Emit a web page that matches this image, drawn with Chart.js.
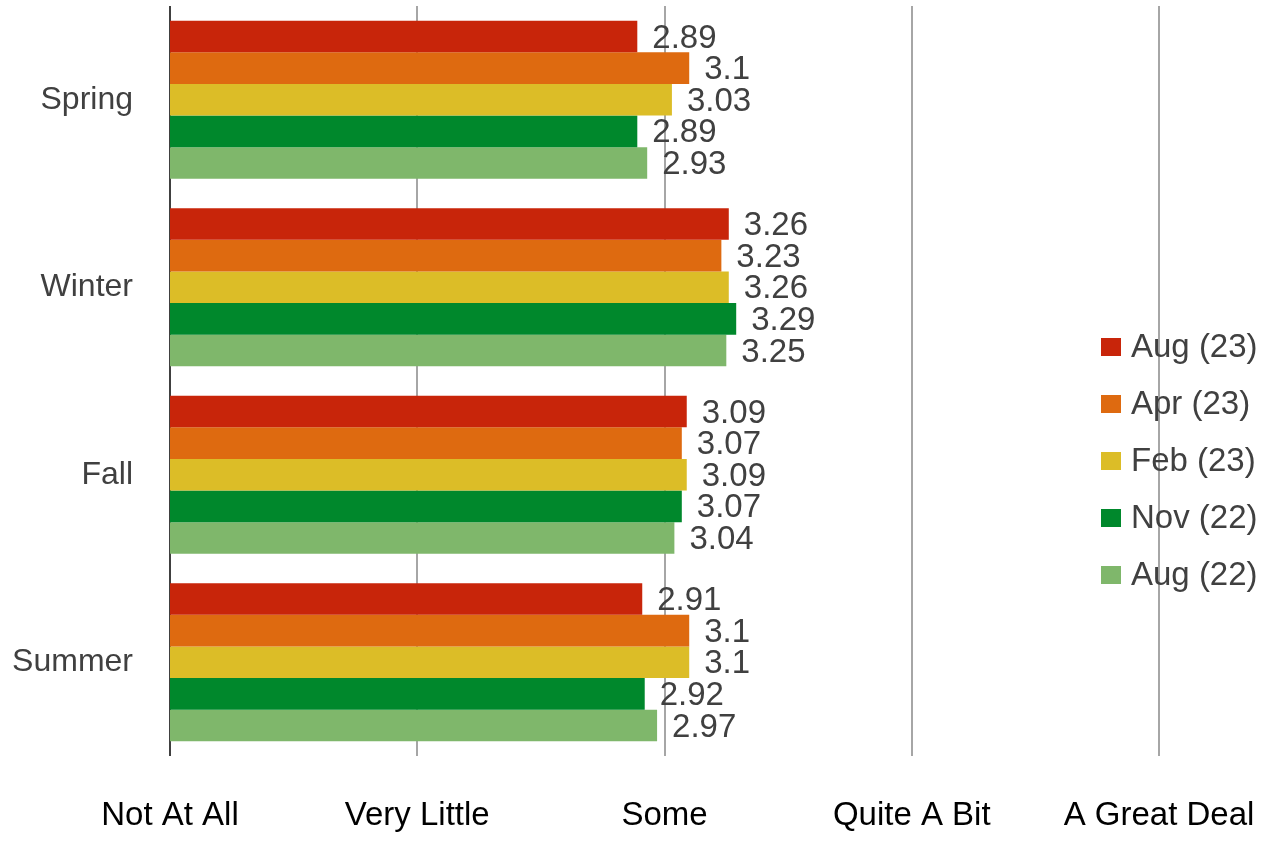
<!DOCTYPE html>
<html lang="en">
  <head>
    <meta charset="UTF-8" />
    <meta name="viewport" content="width=device-width, initial-scale=1.0" />
    <script src="https://cdn.jsdelivr.net/npm/chart.js"></script>
    <style>
      html,
      body {
        margin: 0;
        padding: 0;
        background: #ffffff;
      }
      #mychart {
        display: block;
      }
    </style>
    <title>Seasons</title>
  </head>
  <body>
    <canvas id="mychart" width="1273" height="841"></canvas>
    <script>
      // Datos
      const seasons = ["Spring", "Winter", "Fall", "Summer"];
      const xTickLabels = ["Not At All", "Very Little", "Some", "Quite A Bit", "A Great Deal"];

      const seriesNames = ["Aug (23)", "Apr (23)", "Feb (23)", "Nov (22)", "Aug (22)"];
      const seriesColors = ["#c8250a", "#de6a10", "#dcbd27", "#00882c", "#7fb76b"];

      const aug23 = [2.89, 3.26, 3.09, 2.91];
      const apr23 = [3.1, 3.23, 3.07, 3.1];
      const feb23 = [3.03, 3.26, 3.09, 3.1];
      const nov22 = [2.89, 3.29, 3.07, 2.92];
      const aug22 = [2.93, 3.25, 3.04, 2.97];

      const seriesValues = [aug23, apr23, feb23, nov22, aug22];

      const FONT = "'Liberation Sans', Arial, sans-serif";

      window.addEventListener("load", () => {
        // Etiquetas con el valor al final de cada barra
        const valueLabels = {
          id: "valueLabels",
          afterDatasetsDraw(chart) {
            const { ctx } = chart;
            ctx.save();
            ctx.font = "33px " + FONT;
            ctx.fillStyle = "#404040";
            ctx.textAlign = "left";
            ctx.textBaseline = "middle";
            chart.data.datasets.forEach((ds, i) => {
              chart.getDatasetMeta(i).data.forEach((bar, j) => {
                ctx.fillText(String(ds.data[j]), bar.x + 15, bar.y + 2);
              });
            });
            ctx.restore();
          },
        };

        // Leyenda a la derecha, encima del area del grafico
        const sideLegend = {
          id: "sideLegend",
          afterDraw(chart) {
            const { ctx } = chart;
            ctx.save();
            ctx.font = "33px " + FONT;
            ctx.textAlign = "left";
            ctx.textBaseline = "middle";
            chart.data.datasets.forEach((ds, i) => {
              const y = 347 + i * 57;
              ctx.fillStyle = ds.backgroundColor;
              ctx.fillRect(1101, y - 9, 20, 18);
              ctx.fillStyle = "#404040";
              ctx.fillText(ds.label, 1131, y + 1);
            });
            ctx.restore();
          },
        };

        const ctx = document.getElementById("mychart").getContext("2d");
        const myChart = new Chart(ctx, {
          type: "bar",
          data: {
            labels: seasons,
            datasets: seriesNames.map((name, i) => ({
              label: name,
              data: seriesValues[i],
              backgroundColor: seriesColors[i],
              borderWidth: 0,
              barPercentage: 1,
              categoryPercentage: 0.843,
            })),
          },
          options: {
            indexAxis: "y",
            responsive: false,
            animation: false,
            layout: {
              padding: { top: 6, right: 114, bottom: 0, left: 0 },
            },
            plugins: {
              legend: { display: false },
              tooltip: { enabled: false },
            },
            scales: {
              x: {
                min: 1,
                max: 5,
                afterFit: (scale) => {
                  scale.height = 85;
                  scale.paddingLeft = 0;
                  scale.paddingRight = 0;
                },
                ticks: {
                  stepSize: 1,
                  padding: 40,
                  color: "#000000",
                  font: { family: FONT, size: 33 },
                  callback: (value) => xTickLabels[value - 1],
                },
                grid: {
                  drawTicks: false,
                  lineWidth: 2,
                  color: (c) => (c.tick && c.tick.value === 1 ? "#404040" : "#a6a6a6"),
                },
                border: { display: false },
              },
              y: {
                afterFit: (scale) => {
                  scale.width = 170;
                  scale.paddingTop = 0;
                  scale.paddingBottom = 0;
                },
                ticks: {
                  padding: 37,
                  color: "#404040",
                  font: { family: FONT, size: 32 },
                },
                grid: { display: false, drawTicks: false },
                border: { display: false },
              },
            },
          },
          plugins: [valueLabels, sideLegend],
        });
      });
    </script>
  </body>
</html>
